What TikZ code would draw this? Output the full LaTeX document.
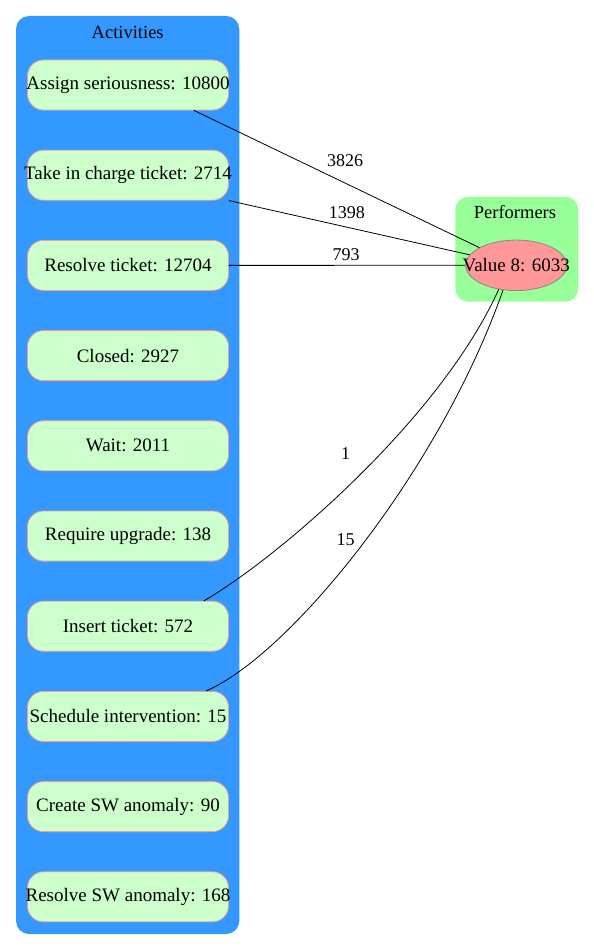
\documentclass[tikz,border=0pt]{standalone}
\usepackage{fontspec}
\setmainfont{Liberation Serif}
\usetikzlibrary{shapes.geometric}
\definecolor{actbg}{HTML}{3399FF}
\definecolor{perfbg}{HTML}{99FF99}
\definecolor{actfill}{HTML}{CCFFCC}
\definecolor{actline}{HTML}{FF9999}
\definecolor{perffill}{HTML}{FF9999}
\definecolor{perfline}{HTML}{888888}
\newcommand{\zw}[1]{\makebox[0pt]{#1}}
\begin{document}
\begin{tikzpicture}[x=1pt,y=-1pt,
  every node/.style={font=\fontsize{19}{21}\selectfont},
  title/.style={font=\fontsize{18.5}{20}\selectfont},
  actbox/.style={draw=actline, fill=actfill, rounded corners=16pt, minimum width=201pt, minimum height=50pt, inner sep=0pt, line width=0.8pt},
  perfbox/.style={draw=perfline, fill=perffill, ellipse, minimum width=101pt, minimum height=50.5pt, inner sep=0pt, line width=0.8pt},
  cluster/.style={rounded corners=13pt},
  edgeline/.style={draw=black, line width=0.8pt},
  elabel/.style={inner sep=0pt, font=\fontsize{18}{20}\selectfont}
]
\useasboundingbox (0,0) rectangle (594,950);
\fill[white] (0,0) rectangle (594,950);
% clusters
\fill[actbg, cluster] (16,16) rectangle (239.3,934);
\node[title] (acttitle) at (127.7,32.3) {Activities};
\fill[perfbg, cluster] (455.3,196.7) rectangle (578.3,301.7);
\node[title] (perftitle) at (515,211.7) {Performers};
% activity nodes
\node[actbox] (as) at (128,85) {\zw{Assign seriousness: 10800}};
\node[actbox] (tk) at (128,175.2) {\zw{Take in charge ticket: 2714}};
\node[actbox] (rs) at (128,265.4) {\zw{Resolve ticket: 12704}};
\node[actbox] (cl) at (128,355.6) {\zw{Closed: 2927}};
\node[actbox] (wt) at (128,445.8) {\zw{Wait: 2011}};
\node[actbox] (ru) at (128,536) {\zw{Require upgrade: 138}};
\node[actbox] (it) at (128,626.2) {\zw{Insert ticket: 572}};
\node[actbox] (si) at (128,716.4) {\zw{Schedule intervention: 15}};
\node[actbox] (cs) at (128,806.6) {\zw{Create SW anomaly: 90}};
\node[actbox] (rsw) at (128,896.8) {\zw{Resolve SW anomaly: 168}};
% performer
\node[perfbox] (v) at (516.2,265.3) {\zw{Value 8: 6033}};
% edges
\draw[edgeline] ([xshift=-35pt]as.south east) -- (v)
  node[elabel, pos=0.53, yshift=23pt] {3826};
\draw[edgeline] (tk.south east) -- (v)
  node[elabel, pos=0.49, yshift=15pt] {1398};
\draw[edgeline] (rs) -- (v)
  node[elabel, pos=0.496, yshift=11pt] {793};
\draw[edgeline] ([xshift=-25pt]it.north east) .. controls (275,560) and (440,420) .. (v.234)
  node[elabel, pos=0.47, yshift=35pt] {1};
\draw[edgeline] ([xshift=-23pt]si.north east) .. controls (290,655) and (440,470) .. (v.242)
  node[elabel, pos=0.45, yshift=26pt] {15};
\end{tikzpicture}
\end{document}
